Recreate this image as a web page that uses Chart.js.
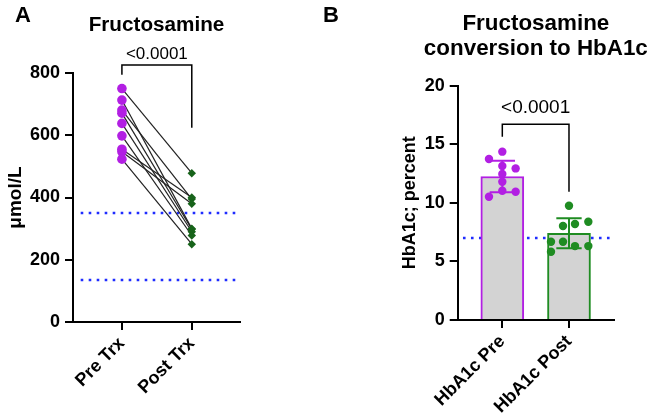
<!DOCTYPE html>
<html>
<head>
<meta charset="utf-8">
<script src="https://cdn.jsdelivr.net/npm/chart.js@4.4.0/dist/chart.umd.min.js"></script>
<style>
  body { margin: 0; background: #fff; }
  #wrap { position: relative; width: 649px; height: 416px; }
  canvas { position: absolute; top: 0; }
</style>
</head>
<body>
<div id="wrap">
  <canvas id="chartA" width="320" height="416" style="left:0"></canvas>
  <canvas id="chartB" width="329" height="416" style="left:320px"></canvas>
</div>
<script>
const FONT = '"Liberation Sans", Arial, sans-serif';
const PURPLE = '#b21fe3';
const GREEN_DARK = '#17631a';
const GREEN = '#1f8c22';
const REF_BLUE = '#1f2cff';
const pText = '<0.0001';

// Panel A - fructosamine, paired pre/post
const groupsA = ['Pre Trx', 'Post Trx'];
const fructPre = [750, 713, 681, 671, 638, 598, 555, 547, 523];
const fructPost = [478, 300, 395, 298, 290, 278, 400, 380, 250];
const fructRef = [135, 350];
const fructTicks = [0, 200, 400, 600, 800];

// Panel B - converted HbA1c
const groupsB = ['HbA1c Pre', 'HbA1c Post'];
const hbaMean = [12.25, 7.4];
const hbaSD = [1.35, 1.28];
const hbaPre = [14.37, 13.74, 13.14, 12.94, 12.46, 11.8, 11.03, 10.95, 10.52];
const hbaPreJitter = [0, -0.2, 0, 0.2, 0, 0, 0, 0.2, -0.2];
const hbaPost = [9.75, 8.39, 8.19, 8.02, 6.68, 6.68, 6.31, 6.31, 5.83];
const hbaPostJitter = [0, 0.29, 0.09, -0.09, -0.27, -0.09, 0.09, 0.29, -0.27];
const hbaRef = 7;
const hbaTicks = [0, 5, 10, 15, 20];

function axisStyle() {
    return {
        offset: false,
        border: { color: '#000', width: 2 },
        grid: { drawOnChartArea: false, offset: false, color: '#000', lineWidth: 2, tickLength: 8 }
    };
}

// titles, panel letter, significance bracket
const panelText = {
    id: 'panelText',
    afterDraw(chart, args, o) {
        const { ctx, chartArea } = chart;
        const x = chart.scales.x, y = chart.scales.y;
        ctx.save();
        ctx.fillStyle = '#000';
        ctx.textAlign = 'center';
        ctx.textBaseline = 'alphabetic';
        ctx.font = `bold ${o.titleSize}px ${FONT}`;
        const cx = (chartArea.left + chartArea.right) / 2;
        o.title.forEach((line, i) => ctx.fillText(line, cx, o.titleY + i * 25));

        ctx.textAlign = 'left';
        ctx.font = `bold 22px ${FONT}`;
        ctx.fillText(o.letter, o.letterX, 22);

        const b = o.bracket;
        const x0 = x.getPixelForValue(0), x1 = x.getPixelForValue(1);
        const yt = y.getPixelForValue(b.top);
        ctx.strokeStyle = '#000';
        ctx.lineWidth = 1.5;
        ctx.beginPath();
        ctx.moveTo(x0, y.getPixelForValue(b.left));
        ctx.lineTo(x0, yt);
        ctx.lineTo(x1, yt);
        ctx.lineTo(x1, y.getPixelForValue(b.right));
        ctx.stroke();

        ctx.textAlign = 'center';
        ctx.font = `${o.pSize}px ${FONT}`;
        ctx.fillText(pText, (x0 + x1) / 2, yt - o.pGap);
        ctx.restore();
    }
};

// mean +/- SD error bars drawn over the bars
const errorBars = {
    id: 'errorBars',
    afterDatasetDraw(chart, args) {
        if (chart.config.options.plugins.errorBars !== true || args.index !== 0) return;
        const { ctx } = chart;
        const x = chart.scales.x, y = chart.scales.y;
        const colors = [PURPLE, GREEN];
        ctx.save();
        ctx.lineWidth = 2;
        hbaMean.forEach((m, i) => {
            const px = x.getPixelForValue(i);
            const cap = x.getPixelForValue(i + 0.19) - px;
            const yTop = y.getPixelForValue(m + hbaSD[i]);
            const yBot = y.getPixelForValue(m - hbaSD[i]);
            ctx.strokeStyle = colors[i];
            ctx.beginPath();
            ctx.moveTo(px, yTop); ctx.lineTo(px, yBot);
            ctx.moveTo(px - cap, yTop); ctx.lineTo(px + cap, yTop);
            ctx.moveTo(px - cap, yBot); ctx.lineTo(px + cap, yBot);
            ctx.stroke();
        });
        ctx.restore();
    }
};

function refLine(v, xFrom, xTo) {
    return {
        type: 'line',
        data: [{ x: xFrom, y: v }, { x: xTo, y: v }],
        borderColor: REF_BLUE,
        borderWidth: 2.6,
        borderDash: [2.6, 5.4],
        pointRadius: 0,
        order: 5
    };
}

// ---- Panel A ----
const xMinA = -0.7, xMaxA = 1.69;
const pairLines = fructPre.map((v, i) => ({
    type: 'line',
    data: [{ x: 0, y: v }, { x: 1, y: fructPost[i] }],
    borderColor: '#222',
    borderWidth: 1.2,
    pointRadius: 0,
    order: 3
}));

new Chart(document.getElementById('chartA'), {
    type: 'line',
    data: {
        datasets: [
            ...fructRef.map(v => refLine(v, -0.59, xMaxA)),
            ...pairLines,
            {
                type: 'scatter',
                data: fructPre.map(v => ({ x: 0, y: v })),
                pointStyle: 'circle',
                pointRadius: 4.8,
                pointBackgroundColor: PURPLE,
                pointBorderWidth: 0,
                order: 1
            },
            {
                type: 'scatter',
                data: fructPost.map(v => ({ x: 1, y: v })),
                pointStyle: 'rectRot',
                pointRadius: 4.2,
                pointBackgroundColor: GREEN_DARK,
                pointBorderWidth: 0,
                order: 1
            }
        ]
    },
    options: {
        responsive: false,
        animation: false,
        layout: { padding: { left: 0, right: 80, top: 73, bottom: 0 } },
        scales: {
            x: {
                type: 'linear', min: xMinA, max: xMaxA,
                ...axisStyle(),
                afterBuildTicks: s => { s.ticks = [{ value: 0 }, { value: 1 }]; },
                afterFit: s => { s.height = 94; },
                ticks: {
                    callback: v => groupsA[v],
                    color: '#000',
                    font: { family: FONT, size: 18, weight: 'bold' },
                    minRotation: 45, maxRotation: 45, padding: 3
                }
            },
            y: {
                min: 0, max: 800,
                ...axisStyle(),
                afterBuildTicks: s => { s.ticks = fructTicks.map(v => ({ value: v })); },
                afterFit: s => { s.width = 73; },
                ticks: { color: '#000', font: { family: FONT, size: 18, weight: 'bold' }, padding: 5 },
                title: {
                    display: true, text: 'μmol/L', color: '#000',
                    font: { family: FONT, size: 19, weight: 'bold' },
                    padding: { top: 4, bottom: 0 }
                }
            }
        },
        plugins: {
            legend: { display: false },
            tooltip: { enabled: false },
            panelText: {
                title: ['Fructosamine'], titleSize: 20.7, titleY: 30.5,
                letter: 'A', letterX: 15,
                bracket: { top: 826, left: 794, right: 624 },
                pSize: 17, pGap: 6
            }
        }
    },
    plugins: [panelText]
});

// ---- Panel B ----
const xMinB = -0.669, xMaxB = 1.675;
new Chart(document.getElementById('chartB'), {
    type: 'bar',
    data: {
        datasets: [
            {
                type: 'bar',
                data: hbaMean.map((m, i) => ({ x: i, y: m })),
                backgroundColor: '#d3d3d3',
                borderColor: [PURPLE, GREEN],
                borderWidth: 2,
                barThickness: 43,
                order: 2
            },
            refLine(hbaRef, -0.59, xMaxB),
            {
                type: 'scatter',
                data: hbaPre.map((v, i) => ({ x: hbaPreJitter[i], y: v })),
                pointRadius: 4.2,
                pointBackgroundColor: PURPLE,
                pointBorderWidth: 0,
                order: 1
            },
            {
                type: 'scatter',
                data: hbaPost.map((v, i) => ({ x: 1 + hbaPostJitter[i], y: v })),
                pointRadius: 4.2,
                pointBackgroundColor: GREEN,
                pointBorderWidth: 0,
                order: 1
            }
        ]
    },
    options: {
        responsive: false,
        animation: false,
        layout: { padding: { left: 65, right: 35, top: 85.7, bottom: 0 } },
        scales: {
            x: {
                type: 'linear', min: xMinB, max: xMaxB,
                ...axisStyle(),
                afterBuildTicks: s => { s.ticks = [{ value: 0 }, { value: 1 }]; },
                afterFit: s => { s.height = 96; },
                ticks: {
                    callback: v => groupsB[v],
                    color: '#000',
                    font: { family: FONT, size: 18, weight: 'bold' },
                    minRotation: 45, maxRotation: 45, padding: 3
                }
            },
            y: {
                min: 0, max: 20,
                ...axisStyle(),
                afterBuildTicks: s => { s.ticks = hbaTicks.map(v => ({ value: v })); },
                afterFit: s => { s.width = 72.7; },
                ticks: { color: '#000', font: { family: FONT, size: 18, weight: 'bold' }, padding: 5 },
                title: {
                    display: true, text: 'HbA1c; percent', color: '#000',
                    font: { family: FONT, size: 18, weight: 'bold' },
                    padding: { top: 14, bottom: 0 }
                }
            }
        },
        plugins: {
            legend: { display: false },
            tooltip: { enabled: false },
            errorBars: true,
            panelText: {
                title: ['Fructosamine', 'conversion to HbA1c'], titleSize: 22.4, titleY: 30,
                letter: 'B', letterX: 3,
                bracket: { top: 16.7, left: 15.64, right: 10.95 },
                pSize: 19, pGap: 11
            }
        }
    },
    plugins: [panelText, errorBars]
});
</script>
</body>
</html>
